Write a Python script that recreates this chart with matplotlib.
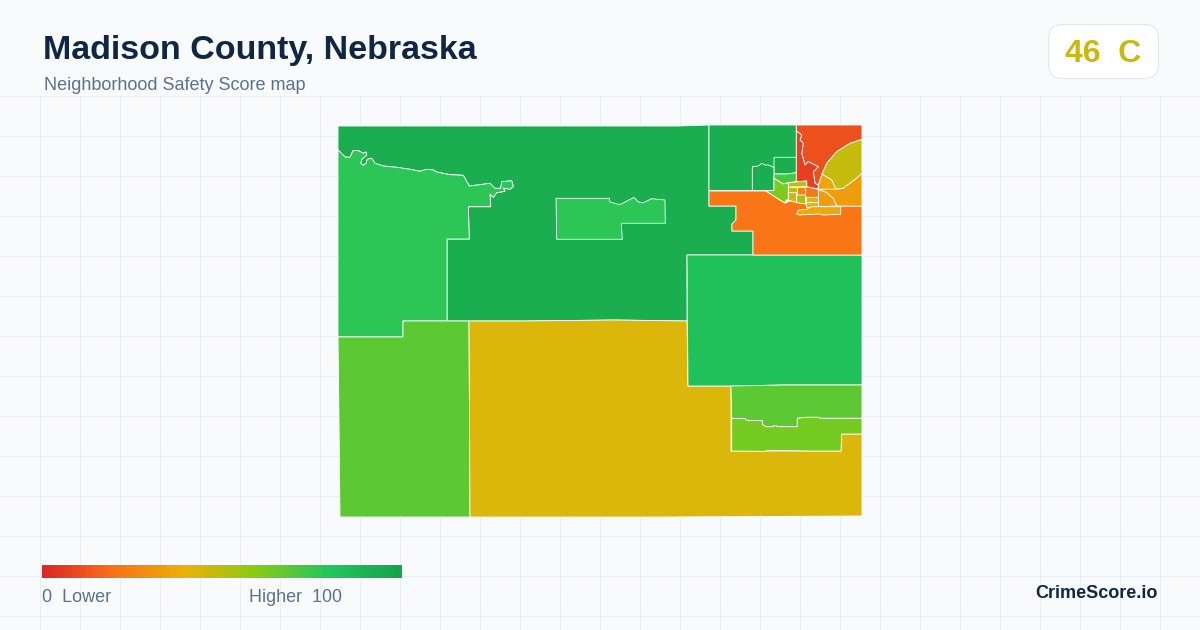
import numpy as np
import matplotlib.pyplot as plt
from matplotlib.colors import LinearSegmentedColormap
from matplotlib.patches import FancyBboxPatch, Polygon

plt.rcParams['font.family'] = ['Liberation Sans', 'DejaVu Sans']

title = "Madison County, Nebraska"
subtitle = "Neighborhood Safety Score map"
score_text = "46  C"
brand = "CrimeScore.io"

color_stops = [0.0, 0.2, 0.4, 0.6, 0.8, 1.0]
color_values = ["#dc2626", "#f97316", "#eab308", "#84cc16", "#22c55e", "#16a34a"]

# tract outlines, traced in map units, and the score of each one
main_tract = [(338, 126), (678, 126), (709, 125), (709, 206), (736, 206), (736, 220), (732, 224), (732, 231),
              (753, 231), (753, 255), (687, 255), (687, 321), (615, 320), (525, 321), (447, 321), (447, 239),
              (469.3, 239), (468.3, 206.7), (490.7, 206.7), (490, 194), (493.3, 197.3), (496.7, 192.7),
              (505, 191.3), (503.3, 188), (510, 189.3), (513.3, 186.7), (511.7, 180.7), (501.7, 181.7),
              (500.7, 188.3), (495, 188.3), (490, 183.3), (480, 184.7), (469.3, 186), (463.3, 175.3),
              (450, 174.7), (436.7, 172), (433.3, 170), (426.7, 169.3), (420, 171.3), (410, 169.3),
              (396.7, 167.3), (383.3, 166), (375, 163.3), (371.7, 158.3), (367.3, 159.3), (366, 163.3),
              (363.3, 165.3), (360.7, 163.3), (361.7, 159.3), (366.7, 155.3), (366, 152), (363.3, 153.3),
              (358.3, 150.7), (353, 150.7), (350, 157.3), (345, 157), (338, 150)]
west_tract = [(338, 150), (345, 157), (350, 157.3), (353, 150.7), (358.3, 150.7), (363.3, 153.3), (366, 152),
              (366.7, 155.3), (361.7, 159.3), (360.7, 163.3), (363.3, 165.3), (366, 163.3), (367.3, 159.3),
              (371.7, 158.3), (375, 163.3), (383.3, 166), (396.7, 167.3), (410, 169.3), (420, 171.3),
              (426.7, 169.3), (433.3, 170), (436.7, 172), (450, 174.7), (463.3, 175.3), (469.3, 186),
              (480, 184.7), (490, 183.3), (495, 188.3), (500.7, 188.3), (501.7, 181.7), (511.7, 180.7),
              (513.3, 186.7), (510, 189.3), (503.3, 188), (505, 191.3), (496.7, 192.7), (493.3, 197.3),
              (490, 194), (490.7, 206.7), (468.3, 206.7), (469.3, 239), (447, 239),
              (447, 321), (403, 321), (403, 337), (338, 337)]
island_tract = [(556, 198.3), (609.3, 198.3), (610, 202), (620, 204.7), (625, 202), (634, 197.3), (638.3, 202),
                (643.3, 202.7), (651.7, 198.7), (665, 200), (665.3, 223.3), (621.3, 223.3), (622.3, 239.3),
                (556.7, 239.3)]
southwest_tract = [(338, 337), (403, 337), (403, 321), (469, 321), (470, 517), (340, 517), (339, 420)]
south_tract = [(469, 321), (525, 321), (615, 320), (687, 321), (688, 386), (731, 386), (731, 451), (766, 451),
               (809, 451), (841, 451), (841.7, 434), (862, 434), (862, 516), (667, 517), (470, 517)]
east_tract = [(687, 255), (862, 255), (862, 385), (784, 385), (731, 386), (688, 386)]
lime_tract = [(731, 386), (784, 385), (862, 385), (862, 418.3), (820, 418.3), (819.3, 417.3), (806, 417.3),
              (797.3, 418.3), (797.3, 426.7), (778, 426.7), (774.3, 425.3), (773.3, 426.7), (765.7, 426.7),
              (762.7, 424.7), (762.3, 420.7), (746.7, 420.3), (745, 418.7), (731.7, 418.3)]
lower_lime_tract = [(731.7, 418.3), (745, 418.7), (746.7, 420.3), (762.3, 420.7), (762.7, 424.7), (765.7, 426.7),
                    (773.3, 426.7), (774.3, 425.3), (778, 426.7), (797.3, 426.7), (797.3, 418.3), (806, 417.3),
                    (819.3, 417.3), (820, 418.3), (862, 418.3), (862, 434), (841.7, 434), (841, 451), (809, 451),
                    (766.7, 450.3), (766, 451.3), (731.7, 451)]
orange_tract = [(709, 191), (766, 191), (780, 200), (785, 203), (790, 201), (818, 206), (862, 206), (862, 255),
                (753, 255), (753, 231), (732, 231), (732, 224), (736, 220), (736, 206), (709, 206)]
north_tract = [(709, 125), (796.3, 125), (796.3, 181), (774, 178), (774, 190.5), (709, 190.5)]
north_box_a = [(774, 157.3), (796.3, 157.3), (796.3, 172.7), (786.7, 174), (774, 174)]
north_box_b = [(752.3, 166.7), (758.3, 166), (761.7, 163.3), (765, 165), (768.3, 165), (774, 167.3), (774, 190.5),
               (752.3, 190.5)]
north_box_c = [(774, 174), (786.7, 174), (796.3, 172.7), (796.3, 181.7), (788.3, 182.7), (783.3, 184), (774, 178.3)]
town_lime = [(774, 178.3), (783.3, 184), (788.3, 182.7), (788.3, 200), (786, 200), (785, 203), (780, 200),
             (766, 191), (774, 190.5)]
river_red = [(796.3, 131), (801.7, 135), (800, 140), (803.3, 143.3), (801.7, 153.3), (805, 165), (808.3, 161.7),
             (818.3, 166.7), (813.3, 171.7), (815, 183.3), (818.3, 185), (818.3, 189), (806.7, 186.7), (806.7, 181),
             (796.3, 181.7)]
northeast_tract = [(796.3, 125), (862, 125), (862, 139.3), (850, 143.3), (836.7, 151.7), (826.7, 163.3),
                   (822.3, 173.3), (818.3, 185), (815, 183.3), (813.3, 171.7), (818.3, 166.7), (808.3, 161.7),
                   (805, 165), (801.7, 153.3), (803.3, 143.3), (800, 140), (801.7, 135), (796.3, 131)]
olive_tract = [(862, 139.3), (862, 173.3), (856.7, 178.3), (843.3, 188.3), (836, 189.3), (831.7, 180),
               (823.3, 175), (822.3, 173.3), (826.7, 163.3), (836.7, 151.7), (850, 143.3)]
amber_small = [(822.3, 173.3), (823.3, 175), (831.7, 180), (836, 189.3), (818.3, 189.3), (818.3, 185)]
amber_east = [(836, 189.3), (843.3, 188.3), (856.7, 178.3), (862, 173.3), (862, 206.3), (836.7, 206),
              (833.3, 198.3), (826.7, 192.7), (818.3, 189.3)]
amber_mid = [(818.3, 189.3), (826.7, 192.7), (833.3, 198.3), (836.7, 206), (818.3, 206.7)]
town_top = [(788.3, 182.7), (806.7, 181), (806.7, 186.7), (788.3, 187)]
town_a = [(788.3, 187), (796.7, 187), (796.7, 192.7), (788.3, 192.7)]
town_b = [(796.7, 187), (805.7, 187), (805.7, 195), (796.7, 195)]
town_c = [(788.3, 192.7), (796.7, 192.7), (796.7, 202.7), (788.3, 200)]
town_d = [(796.7, 195), (805.7, 195), (805.7, 204), (796.7, 202.7)]
town_e = [(805.7, 186.7), (818.3, 189.3), (818.3, 197.3), (805.7, 197.3)]
town_f = [(805.7, 197.3), (818.3, 197.3), (818.3, 201.7), (805.7, 201.7)]
town_g = [(805.7, 201.7), (818.3, 201.7), (818.3, 206.7), (805.7, 206.7)]
south_strip = [(796.7, 214.3), (798.3, 210), (806.7, 209.3), (811.7, 206.7), (840.7, 206.7), (840.7, 214.3),
               (823.3, 215), (818.3, 214), (800, 215)]

tracts = [main_tract, west_tract, island_tract, southwest_tract, south_tract, east_tract, lime_tract,
          lower_lime_tract, orange_tract, north_tract, north_box_a, north_box_b, north_box_c, town_lime,
          northeast_tract, river_red, olive_tract, amber_small, amber_east, amber_mid, town_top, town_a,
          town_b, town_c, town_d, town_e, town_f, town_g, south_strip]
scores = [93, 78, 78, 68, 43, 83, 68, 63, 21, 93, 93, 93, 72, 62,
          11, 7, 47, 36, 33, 33, 49, 48, 25, 46, 52, 21, 41, 40, 37]

grid_x = list(range(40, 1200, 40))
grid_y = list(range(96, 630, 40))

score_map = LinearSegmentedColormap.from_list("score", list(zip(color_stops, color_values)))

fig = plt.figure(figsize=(12, 6.3), dpi=100, facecolor="#f8fafc")
ax = fig.add_axes([0, 0, 1, 1])
ax.set_xlim(0, 1200)
ax.set_ylim(630, 0)
ax.axis("off")

# background grid, starts under the header
ax.vlines(np.array(grid_x), 96, 630, color="#e6eff4", lw=0.72, zorder=0)
ax.hlines(np.array(grid_y), 0, 1200, color="#e6eff4", lw=0.72, zorder=0)

for outline, score in zip(tracts, scores):
    ax.add_patch(Polygon(outline, closed=True, facecolor=score_map(score / 100), edgecolor="white",
                         lw=0.6, joinstyle="round", zorder=2))

ax.text(43, 50, title, fontsize=24.5, fontweight="bold", color="#0f2744", va="center", ha="left")
ax.text(44, 85.5, subtitle, fontsize=13, color="#5a7190", va="center", ha="left")

badge = FancyBboxPatch((1048.5, 24.5), 110, 54, boxstyle="round,pad=0,rounding_size=14",
                       facecolor="white", edgecolor="#e2e8f0", lw=0.8, zorder=3)
ax.add_patch(badge)
ax.text(1103, 54, score_text, fontsize=23, fontweight="bold", color="#c9b90e", va="center", ha="center", zorder=4)

# legend bar
ramp = np.linspace(0, 1, 360).reshape(1, -1)
ax.imshow(ramp, cmap=score_map, extent=(42, 402, 578, 565), aspect="auto", zorder=3)
ax.set_xlim(0, 1200)
ax.set_ylim(630, 0)
ax.text(42, 597.5, "0  Lower", fontsize=13, color="#5a7190", va="center", ha="left")
ax.text(342, 597.5, "Higher  100", fontsize=12.9, color="#5a7190", va="center", ha="right")
ax.text(1158, 593.5, brand, fontsize=13, fontweight="bold", color="#0f2744", va="center", ha="right")

fig.savefig("out.png", dpi=100, facecolor=fig.get_facecolor())
